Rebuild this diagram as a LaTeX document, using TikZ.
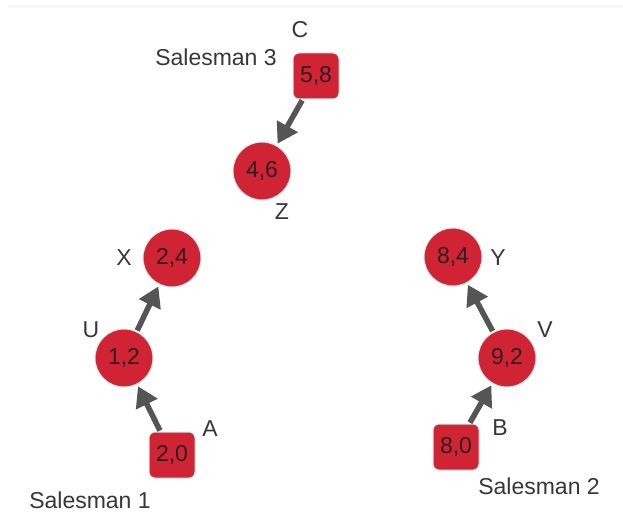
\documentclass[tikz,border=0pt]{standalone}
\usepackage{fontspec}
\setmainfont{Liberation Sans}
\usetikzlibrary{arrows.meta}
\definecolor{nodered}{RGB}{208,36,52}
\definecolor{rim}{RGB}{214,232,236}
\definecolor{edgegray}{RGB}{85,85,85}
\definecolor{txt}{RGB}{55,55,55}
\definecolor{intxt}{RGB}{45,30,32}
\begin{document}
\begin{tikzpicture}[x=1pt, y=-1pt,
    font=\fontsize{23}{27}\selectfont, text=txt,
    city/.style={circle, fill=nodered, draw=rim, line width=1pt, minimum size=58pt, inner sep=0pt, text=intxt},
    depot/.style={rectangle, rounded corners=6pt, fill=nodered, draw=rim, line width=1pt, minimum size=46pt, inner sep=0pt, text=intxt},
    tag/.style={inner sep=0pt},
    route/.style={draw=edgegray, line width=5.5pt, -{Triangle[length=20pt,width=23pt]}, shorten <=1pt, shorten >=2pt}]
    \useasboundingbox (0,0) rectangle (623,513);
    \fill[gray!6] (8,5) rectangle (623,8);
    % depots
    \node[depot] (C) at (316,76) {5,8};
    \node[depot] (A) at (172,455) {2,0};
    \node[depot] (B) at (456,447) {8,0};
    % cities
    \node[city] (Z) at (262,171) {4,6};
    \node[city] (X) at (172,258) {2,4};
    \node[city] (U) at (124,358) {1,2};
    \node[city] (Y) at (453,257) {8,4};
    \node[city] (V) at (507,358) {9,2};
    % names
    \node[tag] (lC) at (300,30) {C};
    \node[tag] (lZ) at (282,212) {Z};
    \node[tag] (lX) at (124,258) {X};
    \node[tag] (lU) at (91,330) {U};
    \node[tag] (lA) at (210,429) {A};
    \node[tag] (lY) at (498,258) {Y};
    \node[tag] (lV) at (545,330) {V};
    \node[tag] (lB) at (500,428) {B};
    \node[tag] (s3) at (216,57) {Salesman 3};
    \node[tag] (s1) at (90,500) {Salesman 1};
    \node[tag] (s2) at (539,486) {Salesman 2};
    % tours
    \draw[route] (C) -- (Z);
    \draw[route] (A) -- (U);
    \draw[route] (U) -- (X);
    \draw[route] (B) -- (V);
    \draw[route] (V) -- (Y);
\end{tikzpicture}
\end{document}
